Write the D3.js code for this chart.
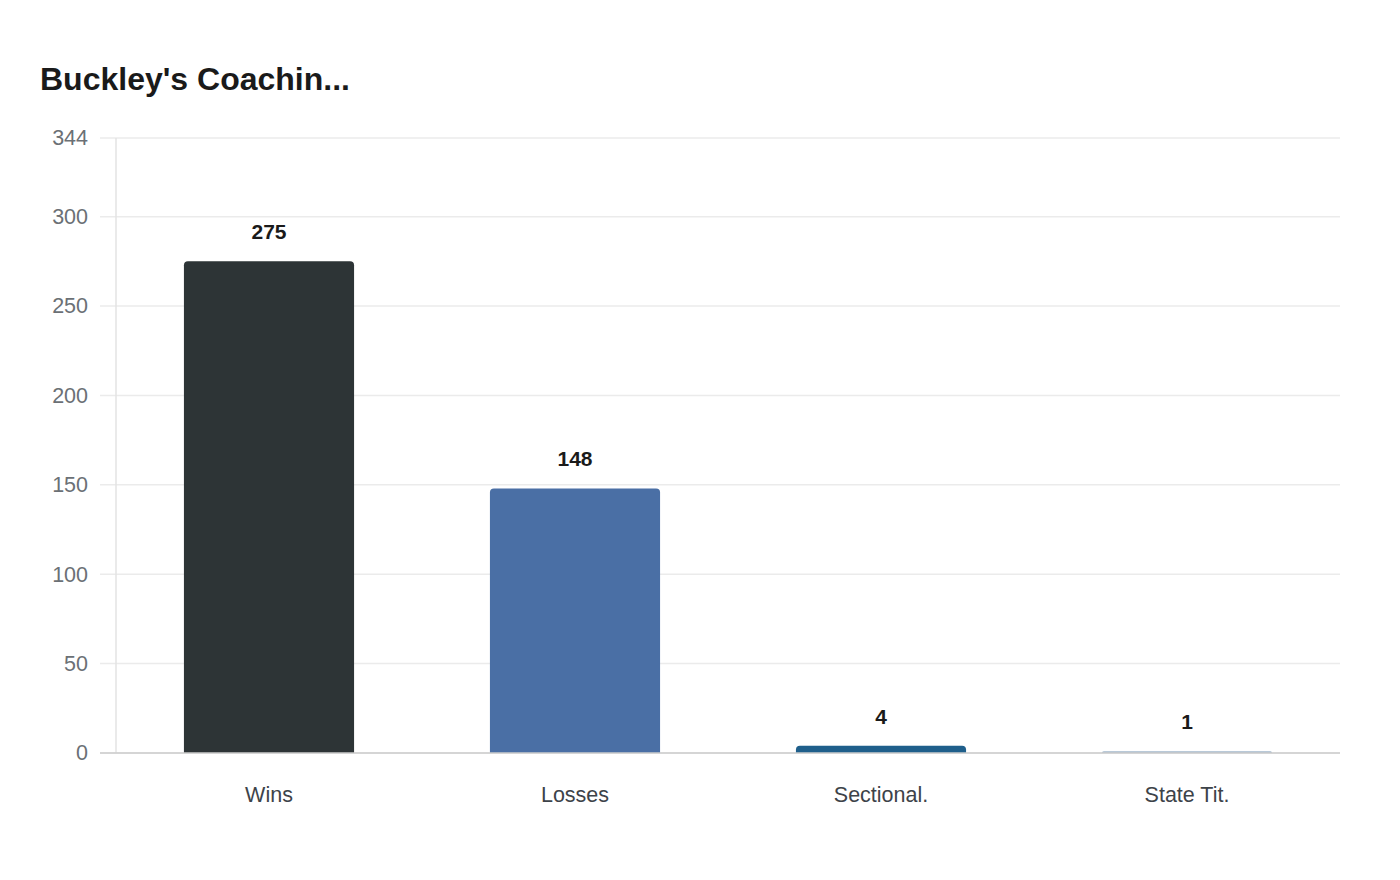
<!DOCTYPE html>
<html>
<head>
<meta charset="utf-8">
<script src="https://cdn.jsdelivr.net/npm/d3@7"></script>
<style>
  body { margin: 0; background: #fff; font-family: "Liberation Sans", Arial, sans-serif; }
</style>
</head>
<body>
<div id="chart"></div>
<script>
// Chart data
const categories = ["Wins", "Losses", "Sectional.", "State Tit."];
const values = [275, 148, 4, 1];
const barColors = ["#2d3436", "#4a6fa5", "#1f5f8b", "#a3b8cc"];
const yTicks = [0, 50, 100, 150, 200, 250, 300, 344];
const title = "Buckley's Coachin...";

const width = 1400, height = 880;
const margin = { top: 138, right: 60, bottom: 127, left: 116 };
const innerW = width - margin.left - margin.right;
const innerH = height - margin.top - margin.bottom;

const svg = d3.select("#chart")
  .append("svg")
  .attr("width", width)
  .attr("height", height);

svg.append("text")
  .attr("x", 40)
  .attr("y", 90)
  .attr("font-size", 32)
  .attr("font-weight", "bold")
  .attr("fill", "#1a1a1a")
  .text(title);

const g = svg.append("g")
  .attr("transform", "translate(" + margin.left + "," + margin.top + ")");

const xScale = d3.scaleBand()
  .domain(categories)
  .range([0, innerW])
  .paddingInner(0.444)
  .paddingOuter(0.222);

const yScale = d3.scaleLinear()
  .domain([0, 344])
  .range([innerH, 0]);

// Gridlines
g.append("g")
  .selectAll("line")
  .data(yTicks)
  .join("line")
  .attr("x1", -16)
  .attr("x2", innerW)
  .attr("y1", d => yScale(d))
  .attr("y2", d => yScale(d))
  .attr("stroke", "#ebebeb")
  .attr("stroke-width", 1.5);

// Y axis line
g.append("line")
  .attr("x1", 0).attr("x2", 0)
  .attr("y1", 0).attr("y2", innerH)
  .attr("stroke", "#e3e3e3")
  .attr("stroke-width", 1.5);

// Y axis labels
const yAxis = g.append("g")
  .attr("transform", "translate(-28,0)")
  .call(d3.axisLeft(yScale).tickValues(yTicks).tickSize(0).tickPadding(0));
yAxis.select(".domain").remove();
yAxis.selectAll("text")
  .attr("font-size", 21.5)
  .attr("font-family", "Liberation Sans, Arial, sans-serif")
  .attr("fill", "#6b7075");

// Bars (rounded top)
const r = 4;
g.append("g")
  .selectAll("path")
  .data(values)
  .join("path")
  .attr("fill", (d, i) => barColors[i])
  .attr("d", (d, i) => {
    const x0 = xScale(categories[i]);
    const w = xScale.bandwidth();
    const y0 = yScale(d);
    const y1 = yScale(0);
    const rr = Math.min(r, (y1 - y0));
    return "M" + x0 + "," + y1 +
      "V" + (y0 + rr) +
      "Q" + x0 + "," + y0 + " " + (x0 + rr) + "," + y0 +
      "H" + (x0 + w - rr) +
      "Q" + (x0 + w) + "," + y0 + " " + (x0 + w) + "," + (y0 + rr) +
      "V" + y1 + "Z";
  });

// Value labels
g.append("g")
  .selectAll("text")
  .data(values)
  .join("text")
  .attr("x", (d, i) => xScale(categories[i]) + xScale.bandwidth() / 2)
  .attr("y", d => yScale(d) - 22)
  .attr("text-anchor", "middle")
  .attr("font-size", 21)
  .attr("font-weight", "bold")
  .attr("fill", "#1a1a1a")
  .text(d => d);

// X axis baseline
g.append("line")
  .attr("x1", -16).attr("x2", innerW)
  .attr("y1", innerH).attr("y2", innerH)
  .attr("stroke", "#cccccc")
  .attr("stroke-width", 1.5);

// X axis labels
const xAxis = g.append("g")
  .attr("transform", "translate(0," + innerH + ")")
  .call(d3.axisBottom(xScale).tickSize(0).tickPadding(34));
xAxis.select(".domain").remove();
xAxis.selectAll("text")
  .attr("font-size", 21.5)
  .attr("font-family", "Liberation Sans, Arial, sans-serif")
  .attr("fill", "#3d4349");
</script>
</body>
</html>
